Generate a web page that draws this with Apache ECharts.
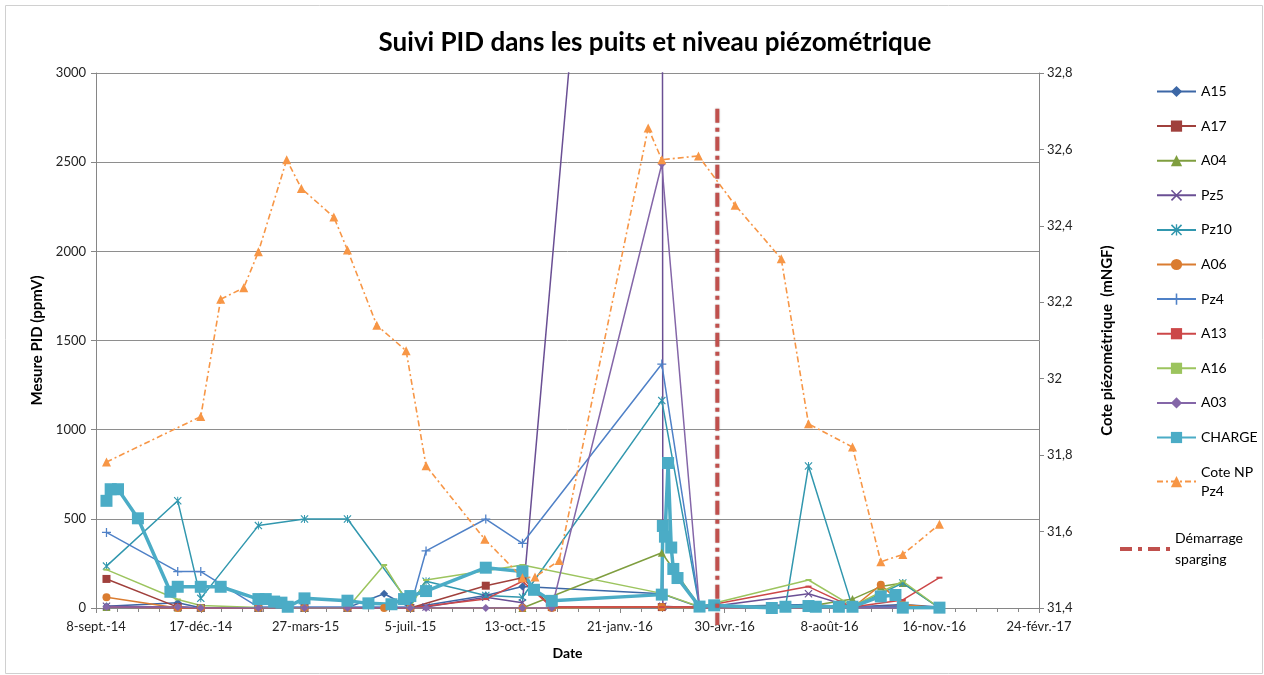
<!DOCTYPE html>
<html>
<head>
<meta charset="utf-8">
<title>Suivi PID</title>
<script src="https://cdn.jsdelivr.net/npm/echarts@6/dist/echarts.min.js"></script>
<style>
  html, body { margin: 0; padding: 0; background: #fff; }
  #chart { width: 1264px; height: 675px; }
</style>
</head>
<body>
<div id="chart"></div>
<script>
// axe des dates : jours depuis le 8-sept.-14
var startDate = '2014-09-08'
var xLabels = ['8-sept.-14', '17-déc.-14', '27-mars-15', '5-juil.-15', '13-oct.-15', '21-janv.-16', '30-avr.-16', '8-août-16', '16-nov.-16', '24-févr.-17']

// mesures PID (ppmV) par puits : [date, valeur]
var a15 = [['2014-09-18', 10], ['2014-11-25', 30], ['2014-12-17', 2], ['2015-02-10', 2], ['2015-03-26', 2], ['2015-05-06', 2], ['2015-06-10', 80], ['2015-07-05', 2], ['2015-09-15', 70], ['2015-10-20', 120], ['2016-03-01', 80], ['2016-04-06', 5], ['2016-07-19', 20], ['2016-08-30', 5], ['2016-10-17', 20], ['2016-11-21', 5]]
var a17 = [['2014-09-18', 163], ['2014-11-25', 5], ['2014-12-17', 0], ['2015-02-10', 0], ['2015-03-26', 0], ['2015-05-06', 0], ['2015-07-05', 0], ['2015-09-15', 125], ['2015-10-20', 170], ['2015-11-17', 5], ['2016-03-01', 5], ['2016-04-06', 5], ['2016-07-19', 5], ['2016-08-30', 5], ['2016-10-17', 10], ['2016-11-21', 5]]
var a04 = [['2014-09-18', 5], ['2014-11-25', 3], ['2014-12-17', 0], ['2015-02-10', 0], ['2015-03-26', 0], ['2015-05-06', 0], ['2015-07-05', 0], ['2015-10-20', 0], ['2016-03-01', 310], ['2016-04-06', 10], ['2016-07-19', 10], ['2016-08-30', 50], ['2016-09-26', 120], ['2016-10-17', 140], ['2016-11-21', 0]]
var pz5 = [['2014-09-18', 10], ['2014-11-25', 5], ['2014-12-17', 0], ['2015-02-10', 0], ['2015-03-26', 0], ['2015-05-06', 0], ['2015-07-05', 0], ['2015-07-20', 5], ['2015-09-15', 60], ['2015-10-20', 30], ['2016-03-01', 9000], ['2016-03-02', 10], ['2016-04-06', 0], ['2016-07-19', 80], ['2016-08-30', 5], ['2016-10-17', 10], ['2016-11-21', 0]]
var pz10 = [['2014-09-18', 235], ['2014-11-25', 601], ['2014-12-17', 54], ['2015-02-10', 462], ['2015-03-26', 499], ['2015-05-06', 499], ['2015-07-05', 20], ['2015-07-20', 150], ['2015-09-15', 70], ['2015-10-20', 60], ['2016-03-01', 1163], ['2016-04-06', 5], ['2016-06-27', 5], ['2016-07-19', 796], ['2016-08-30', 5], ['2016-10-17', 140], ['2016-11-21', 0]]
var a06 = [['2014-09-18', 60], ['2014-11-25', 0], ['2014-12-17', 0], ['2015-02-10', 0], ['2015-03-26', 0], ['2015-05-06', 0], ['2015-06-10', 0], ['2015-07-05', 0], ['2015-10-20', 0], ['2015-11-17', 0], ['2016-03-01', 5], ['2016-04-06', 0], ['2016-07-19', 0], ['2016-08-30', 0], ['2016-09-26', 130], ['2016-10-17', 20], ['2016-11-21', 0]]
var pz4 = [['2014-09-18', 424], ['2014-11-25', 204], ['2014-12-17', 204], ['2015-02-10', 5], ['2015-03-26', 5], ['2015-05-06', 5], ['2015-07-05', 5], ['2015-07-20', 320], ['2015-09-15', 499], ['2015-10-20', 363], ['2016-03-01', 1368], ['2016-04-06', 10], ['2016-07-19', 10], ['2016-08-30', 5], ['2016-10-17', 5], ['2016-11-21', 0]]
var a13 = [['2014-09-18', 5], ['2014-11-25', 0], ['2014-12-17', 0], ['2015-02-10', 0], ['2015-03-26', 0], ['2015-05-06', 0], ['2015-07-05', 0], ['2015-09-15', 50], ['2015-10-20', 150], ['2015-11-17', 5], ['2016-03-01', 5], ['2016-04-06', 5], ['2016-07-19', 120], ['2016-08-30', 5], ['2016-10-17', 45], ['2016-11-21', 170]]
var a16 = [['2014-09-18', 215], ['2014-11-25', 48], ['2014-12-17', 14], ['2015-02-10', 3], ['2015-03-26', 0], ['2015-05-06', 0], ['2015-06-10', 241], ['2015-07-05', 5], ['2015-07-20', 157], ['2015-10-20', 241], ['2016-03-01', 82], ['2016-04-06', 7], ['2016-07-19', 157], ['2016-08-30', 10], ['2016-10-17', 150], ['2016-11-21', 0]]
var a03 = [['2014-09-18', 5], ['2014-11-25', 5], ['2014-12-17', 0], ['2015-02-10', 0], ['2015-03-26', 0], ['2015-05-06', 0], ['2015-07-05', 0], ['2015-07-20', 0], ['2015-09-15', 0], ['2015-10-20', 0], ['2015-11-17', 0], ['2016-03-01', 2490], ['2016-04-06', 0], ['2016-07-19', 0], ['2016-08-30', 0], ['2016-10-17', 0], ['2016-11-21', 0]]
var charge = [['2014-09-18', 601], ['2014-09-22', 666], ['2014-09-29', 666], ['2014-10-18', 503], ['2014-11-18', 91], ['2014-11-25', 119], ['2014-12-17', 119], ['2015-01-05', 119], ['2015-02-10', 50], ['2015-02-17', 50], ['2015-02-25', 36], ['2015-03-04', 30], ['2015-03-10', 7], ['2015-03-26', 54], ['2015-05-06', 41], ['2015-05-26', 26], ['2015-06-17', 21], ['2015-06-29', 50], ['2015-07-05', 67], ['2015-07-20', 95], ['2015-09-15', 226], ['2015-10-20', 205], ['2015-10-31', 102], ['2015-11-17', 40], ['2016-03-01', 75], ['2016-03-02', 460], ['2016-03-04', 400], ['2016-03-07', 813], ['2016-03-10', 339], ['2016-03-12', 219], ['2016-03-16', 168], ['2016-04-06', 8], ['2016-04-20', 15], ['2016-06-14', 0], ['2016-06-27', 7], ['2016-07-19', 11], ['2016-07-26', 7], ['2016-08-17', 7], ['2016-08-30', 7], ['2016-09-26', 65], ['2016-10-10', 73], ['2016-10-17', 2], ['2016-11-21', 2]]

// cote piézométrique Pz4 (mNGF)
var coteNP = [['2014-09-18', 31.782], ['2014-12-17', 31.901], ['2015-01-05', 32.208], ['2015-01-27', 32.238], ['2015-02-10', 32.332], ['2015-03-09', 32.573], ['2015-03-23', 32.498], ['2015-04-23', 32.423], ['2015-05-06', 32.337], ['2015-06-03', 32.140], ['2015-07-01', 32.073], ['2015-07-20', 31.772], ['2015-09-14', 31.580], ['2015-10-20', 31.479], ['2015-11-01', 31.481], ['2015-11-24', 31.524], ['2016-02-17', 32.656], ['2016-03-01', 32.573], ['2016-04-05', 32.583], ['2016-05-10', 32.454], ['2016-06-23', 32.314], ['2016-07-19', 31.882], ['2016-08-30', 31.821], ['2016-09-26', 31.521], ['2016-10-17', 31.540], ['2016-11-21', 31.619]]

// démarrage du sparging
var spargingDate = '2016-04-23'
var spargingRange = [2800, -95]

var fontFamily = 'Lato, "Open Sans", sans-serif'

function dayOffset(d) {
  return (Date.parse(d) - Date.parse(startDate)) / 86400000
}

function toPoints(list) {
  return list.map(function(p) {
    return [dayOffset(p[0]), p[1]]
  })
}

var xMark = 'path://M0,1L1,0L5,4L9,0L10,1L6,5L10,9L9,10L5,6L1,10L0,9L4,5Z'
var starMark = 'path://M0,1L1,0L5,4L9,0L10,1L6,5L10,9L9,10L5,6L1,10L0,9L4,5Z M4.4,0H5.6V10H4.4Z'
var plusMark = 'path://M4.3,0H5.7V4.3H10V5.7H5.7V10H4.3V5.7H0V4.3H4.3Z'

function wellSeries(name, data, color, symbol, size) {
  return {
    name: name,
    type: 'line',
    data: toPoints(data),
    symbol: symbol,
    symbolSize: size,
    showAllSymbol: true,
    itemStyle: { color: color },
    lineStyle: { color: color, width: 1.5 },
    emphasis: { disabled: true }
  }
}

var chart = echarts.init(document.getElementById('chart'))

var series = [
  wellSeries('A15', a15, '#3C67A6', 'diamond', 8),
  wellSeries('A17', a17, '#A0403C', 'rect', 8),
  wellSeries('A04', a04, '#7F9E3F', 'triangle', 8),
  wellSeries('Pz5', pz5, '#6A4F94', xMark, 8),
  wellSeries('Pz10', pz10, '#3197AE', starMark, 8),
  wellSeries('A06', a06, '#DA7C30', 'circle', 8),
  wellSeries('Pz4', pz4, '#4F81C7', plusMark, 9),
  wellSeries('A13', a13, '#CC4748', 'rect', [6, 2]),
  wellSeries('A16', a16, '#9CC45E', 'rect', [6, 2]),
  wellSeries('A03', a03, '#8466A8', 'diamond', 8),
  {
    name: 'CHARGE',
    type: 'line',
    data: toPoints(charge),
    symbol: 'rect',
    symbolSize: 12,
    showAllSymbol: true,
    itemStyle: { color: '#4BACC6' },
    lineStyle: { color: '#4BACC6', width: 3.5 },
    emphasis: { disabled: true }
  },
  {
    name: 'Cote NP Pz4',
    type: 'line',
    yAxisIndex: 1,
    data: toPoints(coteNP),
    symbol: 'triangle',
    symbolSize: 9,
    showAllSymbol: true,
    itemStyle: { color: '#F79646' },
    lineStyle: { color: '#F79646', width: 1.6, type: [6, 3, 2, 3] },
    emphasis: { disabled: true }
  },
  {
    name: 'Démarrage sparging',
    type: 'line',
    clip: false,
    data: spargingRange.map(function(v) {
      return [dayOffset(spargingDate), v]
    }),
    symbol: 'none',
    lineStyle: { color: '#C0504D', width: 4, type: [14, 5, 4, 5], shadowColor: 'rgba(0,0,0,0.25)', shadowBlur: 2 },
    itemStyle: { color: '#C0504D' },
    emphasis: { disabled: true },
    z: 5
  }
]

chart.setOption({
  animation: false,
  textStyle: { fontFamily: fontFamily },
  title: {
    text: 'Suivi PID dans les puits et niveau piézométrique',
    left: 650,
    textAlign: 'center',
    top: 25,
    textStyle: { fontSize: 26, fontWeight: 'bold', color: '#000', fontFamily: fontFamily }
  },
  graphic: [{
    type: 'rect',
    left: 3,
    top: 3,
    shape: { width: 1257, height: 668 },
    style: { fill: 'none', stroke: '#D0D0D0', lineWidth: 1 },
    silent: true
  }],
  legend: [{
    orient: 'vertical',
    left: 1151,
    top: 77,
    itemWidth: 39,
    itemHeight: 14,
    itemGap: 15.6,
    data: ['A15', 'A17', 'A04', 'Pz5', 'Pz10', 'A06', 'Pz4', 'A13', 'A16', 'A03', 'CHARGE', 'Cote NP Pz4'],
    formatter: function(name) {
      return name === 'Cote NP Pz4' ? 'Cote NP\nPz4' : name
    },
    textStyle: { fontSize: 14, color: '#000', lineHeight: 19 },
    selectedMode: false
  }, {
    orient: 'vertical',
    left: 1113,
    top: 523,
    itemWidth: 50,
    itemHeight: 14,
    data: [{
      name: 'Démarrage sparging',
      itemStyle: { opacity: 0 },
      lineStyle: { width: 4, type: [12, 6, 4, 6], color: '#C0504D' }
    }],
    formatter: function() {
      return 'Démarrage\nsparging'
    },
    textStyle: { fontSize: 14, color: '#000', lineHeight: 21 },
    selectedMode: false
  }],
  grid: {
    left: 96,
    right: 225,
    top: 73,
    bottom: 67,
    containLabel: false
  },
  xAxis: {
    type: 'value',
    min: 0,
    max: 900,
    interval: 100,
    name: 'Date',
    nameLocation: 'middle',
    nameGap: 38,
    nameTextStyle: { fontWeight: 'bold', fontSize: 14, color: '#000' },
    axisLine: { show: true, lineStyle: { color: '#868686' } },
    axisTick: { show: true, inside: false, length: 5, lineStyle: { color: '#868686' } },
    minorTick: { show: true, splitNumber: 5, length: 4, lineStyle: { color: '#868686' } },
    splitLine: { show: false },
    axisLabel: {
      margin: 12,
      fontSize: 13,
      color: '#222',
      formatter: function(v) {
        return xLabels[Math.round(v / 100)]
      }
    }
  },
  yAxis: [{
    type: 'value',
    min: 0,
    max: 3000,
    interval: 500,
    name: 'Mesure PID (ppmV)',
    nameLocation: 'middle',
    nameGap: 51,
    nameRotate: 90,
    nameTextStyle: { fontWeight: 'bold', fontSize: 15, color: '#000' },
    axisLine: { show: true, lineStyle: { color: '#868686' } },
    axisTick: { show: true, inside: false, length: 5, lineStyle: { color: '#868686' } },
    splitLine: { show: true, lineStyle: { color: '#8E8E8E', width: 1 } },
    axisLabel: {
      margin: 10,
      fontSize: 13,
      color: '#222',
      formatter: function(v) {
        return String(v)
      }
    }
  }, {
    type: 'value',
    position: 'right',
    min: 31.4,
    max: 32.8,
    interval: 0.2,
    name: 'Cote piézométrique  (mNGF)',
    nameLocation: 'middle',
    nameGap: 61,
    nameRotate: 90,
    nameTextStyle: { fontWeight: 'bold', fontSize: 15, color: '#000' },
    axisLine: { show: true, lineStyle: { color: '#868686' } },
    axisTick: { show: true, inside: false, length: 5, lineStyle: { color: '#868686' } },
    splitLine: { show: false },
    axisLabel: {
      margin: 8,
      fontSize: 13,
      color: '#222',
      formatter: function(v) {
        return String(Math.round(v * 10) / 10).replace('.', ',')
      }
    }
  }],
  series: series
})
</script>
</body>
</html>
